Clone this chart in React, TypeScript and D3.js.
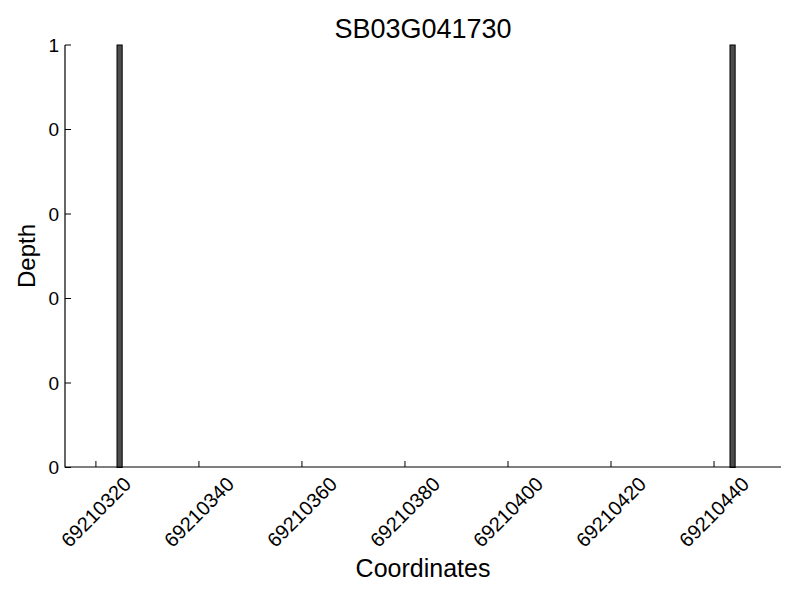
import React, { useEffect, useRef } from 'react';
import * as d3 from 'd3';

// bars (coordinate, depth)
const coords = [69210324, 69210443];
const depths = [1, 1];

const xTicks = [69210320, 69210340, 69210360, 69210380, 69210400, 69210420, 69210440];
const yTicks = [0, 0.2, 0.4, 0.6, 0.8, 1];
const yTickLabels = ['0', '0', '0', '0', '0', '1'];

const title = 'SB03G041730';
const xLabel = 'Coordinates';
const yLabel = 'Depth';

const App = () => {
  const svgRef = useRef<SVGSVGElement | null>(null);

  useEffect(() => {
    const width = 800;
    const height = 600;
    const margin = { top: 45, right: 19, bottom: 133, left: 65 };
    const font = '"Liberation Sans", Arial, sans-serif';

    const svg = d3.select(svgRef.current).attr('width', width).attr('height', height);
    svg.selectAll('*').remove();

    const x = d3.scaleLinear()
      .domain([69210314, 69210453])
      .range([margin.left, width - margin.right]);
    const y = d3.scaleLinear()
      .domain([0, 1])
      .range([height - margin.bottom + 0.5, margin.top]);

    const bottomY = height - margin.bottom;

    // bars, edge aligned, width 1
    svg.append('g')
      .selectAll('rect')
      .data(coords.map((c, i) => ({ c, d: depths[i] })))
      .join('rect')
      .attr('x', (d) => x(d.c) + 0.5)
      .attr('width', (d) => x(d.c + 1) - x(d.c))
      .attr('y', (d) => y(d.d))
      .attr('height', (d) => y(0) - y(d.d))
      .attr('fill', '#4d4d4d')
      .attr('stroke', '#000')
      .attr('stroke-width', 1);

    // spines
    svg.append('line')
      .attr('x1', margin.left).attr('x2', margin.left)
      .attr('y1', margin.top).attr('y2', bottomY + 0.5)
      .attr('stroke', '#000').attr('stroke-width', 1.2);
    svg.append('line')
      .attr('x1', margin.left).attr('x2', width - margin.right)
      .attr('y1', bottomY).attr('y2', bottomY)
      .attr('stroke', '#000').attr('stroke-width', 1.2);

    // y ticks (inward)
    yTicks.forEach((t, i) => {
      svg.append('line')
        .attr('x1', margin.left).attr('x2', margin.left + 6)
        .attr('y1', y(t)).attr('y2', y(t))
        .attr('stroke', '#000').attr('stroke-width', 1);
      svg.append('text')
        .attr('x', margin.left - 6)
        .attr('y', y(t))
        .attr('dy', '0.35em')
        .attr('text-anchor', 'end')
        .attr('font-family', font)
        .attr('font-size', 19)
        .text(yTickLabels[i]);
    });

    // x ticks (inward) with rotated labels
    xTicks.forEach((t) => {
      svg.append('line')
        .attr('x1', x(t)).attr('x2', x(t))
        .attr('y1', bottomY).attr('y2', bottomY - 6)
        .attr('stroke', '#000').attr('stroke-width', 1);
      svg.append('text')
        .attr('transform', `translate(${x(t)},${bottomY + 45}) rotate(-45)`)
        .attr('text-anchor', 'middle')
        .attr('dy', '0.35em')
        .attr('font-family', font)
        .attr('font-size', 20)
        .text(String(t));
    });

    svg.append('text')
      .attr('x', (margin.left + width - margin.right) / 2)
      .attr('y', 38)
      .attr('text-anchor', 'middle')
      .attr('font-family', font)
      .attr('font-size', 27)
      .text(title);

    svg.append('text')
      .attr('x', (margin.left + width - margin.right) / 2)
      .attr('y', 577)
      .attr('text-anchor', 'middle')
      .attr('font-family', font)
      .attr('font-size', 25)
      .text(xLabel);

    svg.append('text')
      .attr('transform', `translate(35,${(margin.top + bottomY) / 2}) rotate(-90)`)
      .attr('text-anchor', 'middle')
      .attr('font-family', font)
      .attr('font-size', 24)
      .text(yLabel);
  }, []);

  return (
    <div style={{ position: 'absolute', left: 0, top: 0 }}>
      <svg ref={svgRef}></svg>
    </div>
  );
};

export default App;
